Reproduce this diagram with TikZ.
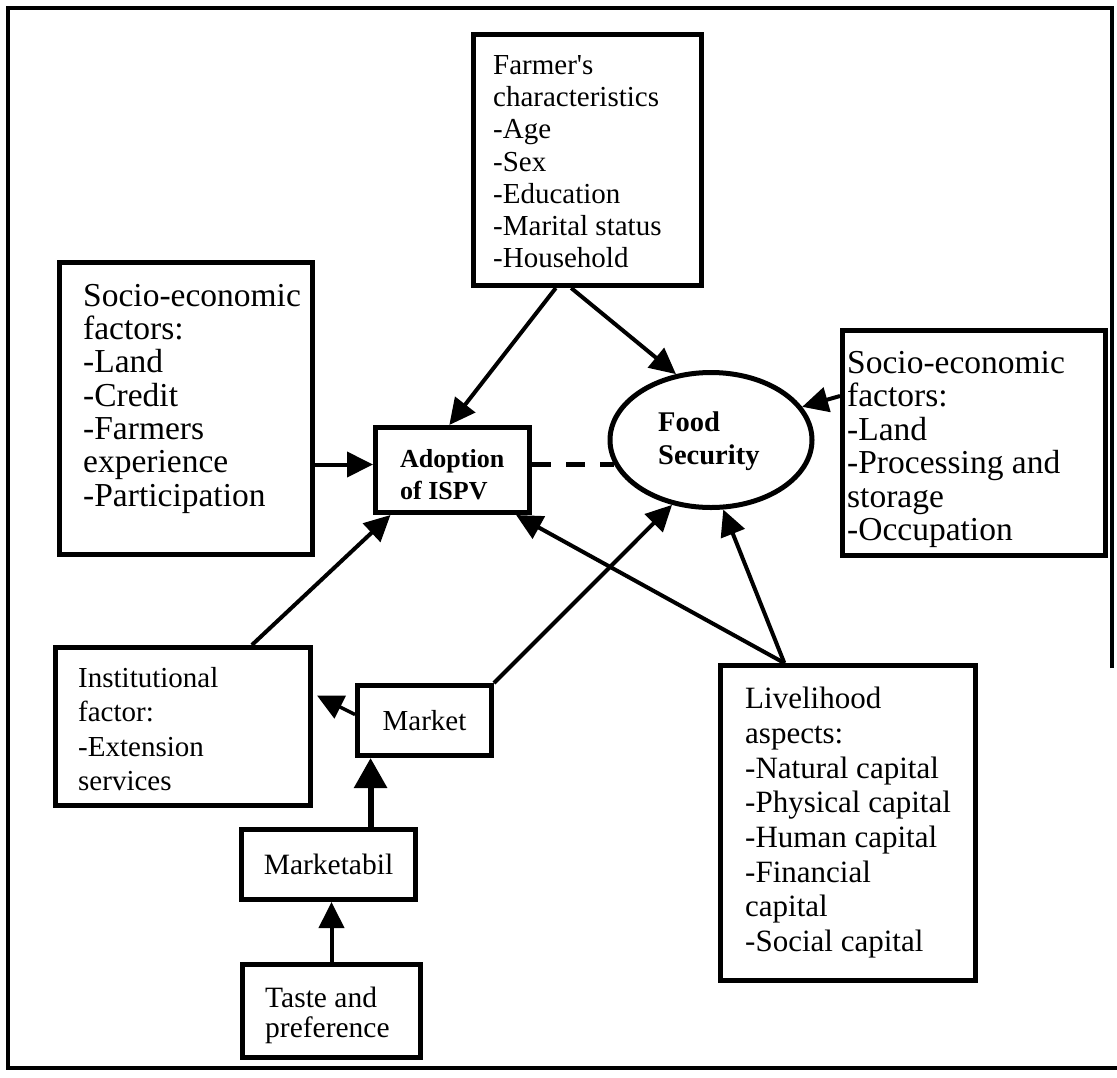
\documentclass[tikz,border=0pt]{standalone}
\usepackage{fontspec}
\setmainfont{Liberation Serif}
\usetikzlibrary{arrows.meta,shapes.geometric,calc}
\begin{document}
\begin{tikzpicture}[x=1pt,y=-1pt,
  box/.style={draw, line width=5pt, inner sep=0pt, anchor=north west},
  txt/.style={inner sep=0pt, anchor=north west, align=left},
  arr/.style={line width=4pt, -{Triangle[length=26pt,width=25pt]}},
  arrw/.style={line width=6pt, -{Triangle[length=30pt,width=32pt]}},
  dashline/.style={line width=5pt, dash pattern=on 19pt off 15pt},
  frame/.style={line width=4pt}]
\useasboundingbox (0,0) rectangle (1117,1077);
% outer frame
\draw[frame] (1112,668) -- (1112,8) -- (8,8) -- (8,1068) -- (1117,1068);

% boxes
\node[box, minimum width=228pt, minimum height=251pt] (far) at (471,32) {};
\node[txt, font={\fontsize{29pt}{32.3pt}\selectfont}] (fart) at (493,55)
  {Farmer\textquotesingle s\\characteristics\\-Age\\-Sex\\-Education\\-Marital status\\-Household};

\node[box, minimum width=253pt, minimum height=292pt] (ls) at (57,260) {};
\node[txt, font={\fontsize{33.5pt}{33.3pt}\selectfont}] (lst) at (83,284)
  {Socio-economic\\factors:\\-Land\\-Credit\\-Farmers\\experience\\-Participation};

\node[box, minimum width=263pt, minimum height=225pt] (rs) at (840,328) {};
\node[txt, font={\fontsize{33.5pt}{33.5pt}\selectfont}] (rst) at (847,351)
  {Socio-economic\\factors:\\-Land\\-Processing and\\storage\\-Occupation};

\node[box, minimum width=154pt, minimum height=85pt] (ad) at (373,425) {};
\node[txt, font={\fontsize{26pt}{32pt}\selectfont\bfseries}] (adt) at (400,449)
  {Adoption\\of ISPV};

\node[draw, ellipse, line width=5pt, minimum width=202pt, minimum height=135pt, inner sep=0pt] (fs) at (711,440) {};
\node[txt, font={\fontsize{28.5pt}{33pt}\selectfont\bfseries}] (fst) at (658,412)
  {Food\\Security};

\node[box, minimum width=255pt, minimum height=315pt] (lv) at (718,663) {};
\node[txt, font={\fontsize{31pt}{34.7pt}\selectfont}] (lvt) at (745,687)
  {Livelihood\\aspects:\\-Natural capital\\-Physical capital\\-Human capital\\-Financial\\capital\\-Social capital};

\node[box, minimum width=255pt, minimum height=158pt] (in) at (53,645) {};
\node[txt, font={\fontsize{29pt}{34.5pt}\selectfont}] (int) at (78,667)
  {Institutional\\factor:\\-Extension\\services};

\node[box, minimum width=134pt, minimum height=70pt, font={\fontsize{29pt}{34pt}\selectfont}] (mk) at (355,683) {Market};

\node[box, minimum width=174pt, minimum height=70pt, font={\fontsize{29.5pt}{34pt}\selectfont}] (mb) at (239,827) {Marketabil};

\node[box, minimum width=178pt, minimum height=93pt] (ta) at (240,962) {};
\node[txt, font={\fontsize{29.5pt}{30pt}\selectfont}] (tat) at (265,987)
  {Taste and\\preference};

% connectors
\draw[arr] ($(far.south west)!0.364!(far.south east)$) -- ($(ad.north west)!0.48!(ad.north east)$);
\draw[arr] ($(far.south west)!0.43!(far.south east)$) -- (fs.118);
\draw[arr] ([yshift=-56pt]ls.east) -- ([yshift=-56pt]ls.east -| ad.west);
\draw[dashline] (ad.east |- fs.194) -- (fs.194);
\draw[arr] ([yshift=47pt]rs.west) -- (fs.20);
\coordinate (lvtop) at ($(lv.north west)!0.255!(lv.north east)$);
\draw[arr] (lvtop) -- ($(ad.south west)!0.9!(ad.south east)$);
\draw[arr] (lvtop) -- (fs.280);
\draw[arr] (mk.north east) -- (fs.239);
\draw[arr, line width=3.5pt] ([yshift=6pt]mk.west) -- ([xshift=4pt,yshift=31pt]in.east);
\draw[arr] ($(in.north west)!0.765!(in.north east)$) -- ($(ad.south west)!0.11!(ad.south east)$);
\coordinate (mkin) at ($(mk.south west)!0.112!(mk.south east)$);
\draw[arrw] (mb.north -| mkin) -- (mkin);
\draw[arr] (ta.north) -- (mb.south -| ta.north);
\end{tikzpicture}
\end{document}
